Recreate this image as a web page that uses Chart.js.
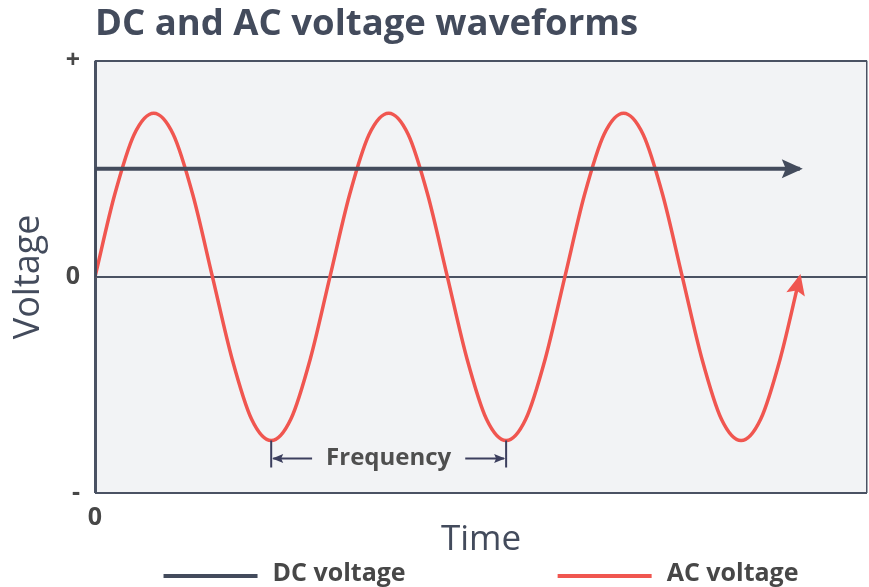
<!DOCTYPE html>
<html>
<head>
<meta charset="utf-8">
<title>DC and AC voltage waveforms</title>
<script src="https://cdn.jsdelivr.net/npm/chart.js@4.4.1/dist/chart.umd.min.js"></script>
<style>
    html, body { margin: 0; padding: 0; background: #ffffff; }
    #wrap { width: 869px; height: 587px; }
</style>
</head>
<body>
<div id="wrap"><canvas id="waveChart" width="869" height="587"></canvas></div>
<script>
// Time axis is measured in phase degrees of the AC wave
var acPhase = [0, 30, 60, 90, 120, 150, 180, 210, 240, 270, 300, 330,
               360, 390, 420, 450, 480, 510, 540, 570, 600, 630, 660, 690,
               720, 750, 780, 810, 840, 870, 900, 930, 960, 990, 1020, 1050, 1080];
var acVolts = [0, 0.5, 0.87, 1, 0.87, 0.5, 0, -0.5, -0.87, -1, -0.87, -0.5,
               0, 0.5, 0.87, 1, 0.87, 0.5, 0, -0.5, -0.87, -1, -0.87, -0.5,
               0, 0.5, 0.87, 1, 0.87, 0.5, 0, -0.5, -0.87, -1, -0.87, -0.5, 0];

var dcPhase = [0, 0, 1080];
var dcVolts = [0, 0.66, 0.66];

var timeTicks = [0, 1183];
var timeTickLabels = ['0', ''];
var voltTicks = [-1.32, 0, 1.32];
var voltTickLabels = ['-', '0', '+'];

// Frequency marker: trough to trough
var freqFrom = 270;
var freqTo = 630;
var freqLevel = -1.11;
var freqBracket = [-1.0, -1.165];
var freqLabel = 'Frequency';

var slate = '#434b5c';
var red = '#f05650';
var frameColor = '#4a5263';
var textGray = '#474747';

Chart.defaults.font.family = "'Open Sans', 'Noto Sans', sans-serif";

function toPoints(xs, ys) {
    return xs.map(function(x, i) { return {x: x, y: ys[i]}; });
}

// Plot background
var plotBackground = {
    id: 'plotBackground',
    beforeDraw: function(chart) {
        var a = chart.chartArea;
        var ctx = chart.ctx;
        ctx.save();
        ctx.fillStyle = '#f2f3f5';
        ctx.fillRect(a.left, a.top, a.right - a.left, a.bottom - a.top);
        ctx.restore();
    }
};

// Arrow heads at the end of the lines
var arrowHeads = {
    id: 'arrowHeads',
    afterDatasetsDraw: function(chart) {
        var ctx = chart.ctx;
        chart.data.datasets.forEach(function(ds, i) {
            if (!ds.arrowHead) return;
            var pts = chart.getDatasetMeta(i).data;
            var end = pts[pts.length - 1];
            var prev = pts[pts.length - 2];
            var fx = end.cp1x !== undefined ? end.cp1x : prev.x;
            var fy = end.cp1y !== undefined ? end.cp1y : prev.y;
            var ang = Math.atan2(end.y - fy, end.x - fx);
            var len = 21, half = 9.5, notch = 4;
            ctx.save();
            ctx.translate(end.x, end.y);
            ctx.rotate(ang);
            ctx.translate(3, 0);
            ctx.beginPath();
            ctx.moveTo(0, 0);
            ctx.lineTo(-len, -half);
            ctx.lineTo(-len + notch, 0);
            ctx.lineTo(-len, half);
            ctx.closePath();
            ctx.fillStyle = ds.borderColor;
            ctx.fill();
            ctx.restore();
        });
    }
};

// Trough-to-trough frequency marker
var frequencyMarker = {
    id: 'frequencyMarker',
    afterDatasetsDraw: function(chart) {
        var ctx = chart.ctx;
        var xs = chart.scales.x, ys = chart.scales.y;
        var x1 = xs.getPixelForValue(freqFrom);
        var x2 = xs.getPixelForValue(freqTo);
        var y = ys.getPixelForValue(freqLevel);
        var yTop = ys.getPixelForValue(freqBracket[0]);
        var yBot = ys.getPixelForValue(freqBracket[1]);
        var mid = (x1 + x2) / 2;

        ctx.save();
        ctx.font = 'bold 24px ' + Chart.defaults.font.family;
        var tw = ctx.measureText(freqLabel).width;
        var gap = 14;

        ctx.strokeStyle = '#3c3f5e';
        ctx.fillStyle = '#3c3f5e';
        ctx.lineWidth = 2;
        ctx.beginPath();
        ctx.moveTo(x1, yTop); ctx.lineTo(x1, yBot);
        ctx.moveTo(x2, yTop); ctx.lineTo(x2, yBot);
        ctx.moveTo(x1 + 2, y); ctx.lineTo(mid - tw / 2 - gap, y);
        ctx.moveTo(x2 - 2, y); ctx.lineTo(mid + tw / 2 + gap, y);
        ctx.stroke();

        [[x1 + 1, 1], [x2 - 1, -1]].forEach(function(a) {
            ctx.beginPath();
            ctx.moveTo(a[0], y);
            ctx.lineTo(a[0] + a[1] * 11, y - 4.5);
            ctx.lineTo(a[0] + a[1] * 9, y);
            ctx.lineTo(a[0] + a[1] * 11, y + 4.5);
            ctx.closePath();
            ctx.fill();
        });

        ctx.fillStyle = '#4f4f4f';
        ctx.textAlign = 'center';
        ctx.textBaseline = 'middle';
        ctx.fillText(freqLabel, mid, y);
        ctx.restore();
    }
};

// Legend drawn under the time axis title
var bottomLegend = {
    id: 'bottomLegend',
    afterDraw: function(chart) {
        var ctx = chart.ctx;
        var a = chart.chartArea;
        var lineW = 94, textGap = 15, itemGap = 152;
        var lineY = chart.height - 11;
        ctx.save();
        ctx.font = 'bold 25px ' + Chart.defaults.font.family;
        var items = chart.data.datasets.map(function(ds) {
            return {label: ds.label, color: ds.borderColor, w: lineW + textGap + ctx.measureText(ds.label).width};
        });
        var total = items.reduce(function(s, it) { return s + it.w; }, 0) + itemGap * (items.length - 1);
        var x = (a.left + a.right) / 2 - total / 2;
        ctx.textBaseline = 'middle';
        items.forEach(function(it) {
            ctx.fillStyle = it.color;
            ctx.fillRect(x, lineY - 2, lineW, 4);
            ctx.fillStyle = textGray;
            ctx.fillText(it.label, x + lineW + textGap, lineY - 2);
            x += it.w + itemGap;
        });
        ctx.restore();
    }
};

var ctx = document.getElementById('waveChart');
new Chart(ctx, {
    type: 'line',
    data: {
        datasets: [{
            label: 'DC voltage',
            data: toPoints(dcPhase, dcVolts),
            borderColor: slate,
            borderWidth: 4,
            pointRadius: 0,
            tension: 0,
            arrowHead: true
        }, {
            label: 'AC voltage',
            data: toPoints(acPhase, acVolts),
            borderColor: red,
            borderWidth: 3.5,
            pointRadius: 0,
            cubicInterpolationMode: 'monotone',
            arrowHead: true
        }]
    },
    options: {
        responsive: false,
        animation: false,
        devicePixelRatio: 1,
        layout: {
            padding: {left: 0, right: 2, top: 0, bottom: 24}
        },
        plugins: {
            legend: { display: false },
            tooltip: { enabled: false },
            title: {
                display: true,
                text: 'DC and AC voltage waveforms',
                align: 'start',
                fullSize: false,
                color: slate,
                font: { size: 36.5, weight: 'bold' },
                padding: { top: 3, bottom: 14 }
            }
        },
        scales: {
            x: {
                type: 'linear',
                min: timeTicks[0],
                max: timeTicks[timeTicks.length - 1],
                afterBuildTicks: function(scale) {
                    scale.ticks = timeTicks.map(function(v) { return {value: v}; });
                },
                afterFit: function(scale) {
                    scale.height = 70;
                    scale.paddingLeft = 0;
                    scale.paddingRight = 0;
                },
                border: { display: false },
                grid: {
                    drawTicks: false,
                    color: frameColor,
                    lineWidth: function(c) { return c.index === 0 ? 3 : 1.5; }
                },
                ticks: {
                    padding: 10,
                    color: textGray,
                    font: { size: 25, weight: 'bold' },
                    maxRotation: 0,
                    callback: function(v, i) { return timeTickLabels[i]; }
                },
                title: {
                    display: true,
                    text: 'Time',
                    color: slate,
                    font: { size: 35 },
                    padding: { top: 0, bottom: 2 }
                }
            },
            y: {
                min: voltTicks[0],
                max: voltTicks[voltTicks.length - 1],
                afterBuildTicks: function(scale) {
                    scale.ticks = voltTicks.map(function(v) { return {value: v}; });
                },
                afterFit: function(scale) { scale.width = 95; },
                border: { display: false },
                grid: {
                    drawTicks: false,
                    color: frameColor,
                    lineWidth: 2
                },
                ticks: {
                    padding: 15,
                    color: textGray,
                    font: { size: 25, weight: 'bold' },
                    callback: function(v, i) { return voltTickLabels[i]; }
                },
                title: {
                    display: true,
                    text: 'Voltage',
                    color: slate,
                    font: { size: 36 },
                    padding: { top: 7, bottom: 0 }
                }
            }
        }
    },
    plugins: [plotBackground, arrowHeads, frequencyMarker, bottomLegend]
});
</script>
</body>
</html>
